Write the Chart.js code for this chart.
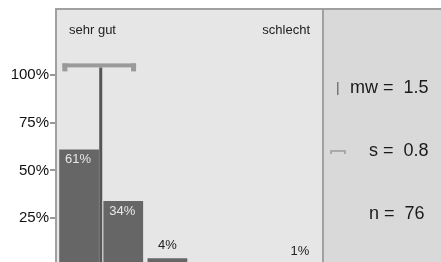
<!DOCTYPE html>
<html>
<head>
<meta charset="utf-8">
<script src="https://cdn.jsdelivr.net/npm/chart.js@4/dist/chart.umd.min.js"></script>
<style>
  html, body { margin: 0; padding: 0; background: #fff; overflow: hidden; }
  canvas { display: block; }
</style>
</head>
<body>
<canvas id="gradeChart" width="441" height="270"></canvas>
<script>
const grades = ["1", "2", "3", "4", "5", "6"];
const shares = [61, 34, 4, 0, 0, 1];
const yTicks = [25, 50, 75, 100];
const scaleEnds = ["sehr gut", "schlecht"];
const meanGrade = 1.49;
const stdDev = 0.8;
const statNames = ["mw", "s", "n"];
const statValues = ["1.5", "0.8", "76"];

const FONT = '"Liberation Sans", Arial, sans-serif';

// background, mean marker, value labels and the stats panel on the right
const panelPlugin = {
  id: "panel",
  beforeDraw(chart) {
    const { ctx, chartArea: a, width } = chart;
    ctx.save();
    ctx.fillStyle = "#e6e6e6";
    ctx.fillRect(a.left, a.top, a.right - a.left, chart.height - a.top);
    ctx.fillStyle = "#d9d9d9";
    ctx.fillRect(a.right, a.top, width - a.right, chart.height - a.top);
    ctx.restore();
  },
  afterDatasetsDraw(chart) {
    const { ctx, chartArea: a } = chart;
    const x = chart.scales.x, y = chart.scales.y;
    ctx.save();

    // value labels
    ctx.font = "13px " + FONT;
    ctx.textAlign = "center";
    ctx.textBaseline = "middle";
    chart.getDatasetMeta(0).data.forEach((bar, i) => {
      const v = shares[i];
      if (!v) return;
      if (v >= 20) {
        ctx.fillStyle = "#e8e8e8";
        ctx.fillText(v + "%", bar.x - 1, bar.y + 10);
      } else {
        ctx.fillStyle = "#222";
        ctx.fillText(v + "%", bar.x, bar.y - 13);
      }
    });

    // mean line + std bracket
    const mx = x.getPixelForValue(meanGrade - 1);
    const by = y.getPixelForValue(105);
    ctx.fillStyle = "#555";
    ctx.fillRect(mx - 1.5, by + 2, 3, chart.height - by);
    const l = x.getPixelForValue(meanGrade - 1 - stdDev) - 3;
    const r = x.getPixelForValue(meanGrade - 1 + stdDev);
    ctx.fillStyle = "#9a9a9a";
    ctx.fillRect(l, by - 2, r - l, 4);
    ctx.fillRect(l, by - 2, 5, 8);
    ctx.fillRect(r - 5, by - 2, 5, 8);
    ctx.restore();
  },
  afterDraw(chart) {
    const { ctx, chartArea: a, width } = chart;
    ctx.save();

    // frame
    ctx.fillStyle = "#a0a0a0";
    ctx.fillRect(a.left - 2, a.top - 2, width - a.left + 2, 2);
    ctx.fillRect(a.left - 2, a.top - 2, 2, chart.height);
    ctx.fillRect(a.right, a.top, 2, chart.height);

    // scale ends
    ctx.font = "13px " + FONT;
    ctx.fillStyle = "#222";
    ctx.textBaseline = "middle";
    ctx.textAlign = "left";
    ctx.fillText(scaleEnds[0], a.left + 12, a.top + 20);
    ctx.textAlign = "right";
    ctx.fillText(scaleEnds[1], a.right - 12, a.top + 20);

    // stats
    ctx.font = "18px " + FONT;
    ctx.textAlign = "left";
    ctx.fillStyle = "#1a1a1a";
    const rowY = [a.top + 78, a.top + 141, a.top + 204];
    const rowX = [a.right + 28, a.right + 47, a.right + 47];
    statNames.forEach((name, i) => {
      ctx.fillText(name + " =  " + statValues[i], rowX[i], rowY[i]);
    });

    // legend icons
    ctx.fillStyle = "#777";
    ctx.fillRect(a.right + 15, rowY[0] - 6, 1.5, 13);
    ctx.fillStyle = "#aaa";
    ctx.fillRect(a.right + 8, rowY[1] - 1, 16, 2);
    ctx.fillRect(a.right + 8, rowY[1] - 1, 2, 4);
    ctx.fillRect(a.right + 22, rowY[1] - 1, 2, 4);
    ctx.restore();
  }
};

new Chart(document.getElementById("gradeChart"), {
  type: "bar",
  data: {
    labels: grades,
    datasets: [{
      data: shares,
      backgroundColor: "#666666",
      borderWidth: 0,
      barPercentage: 0.9,
      categoryPercentage: 1.0
    }]
  },
  options: {
    responsive: false,
    animation: false,
    devicePixelRatio: 1,
    layout: { padding: { top: 10, bottom: 4, right: 119, left: 0 } },
    plugins: { legend: { display: false }, tooltip: { enabled: false } },
    scales: {
      x: { display: false },
      y: {
        min: 0,
        max: 134,
        afterBuildTicks: (s) => { s.ticks = yTicks.map(v => ({ value: v })); },
        afterFit: (s) => { s.width = 57; s.paddingTop = 0; s.paddingBottom = 0; },
        border: { display: false },
        grid: { drawOnChartArea: false, drawTicks: true, tickLength: 7, color: "#999", lineWidth: 2 },
        ticks: {
          color: "#111",
          padding: 1,
          font: { size: 15, family: FONT },
          callback: (v) => v + "%"
        }
      }
    }
  },
  plugins: [panelPlugin]
});
</script>
</body>
</html>
